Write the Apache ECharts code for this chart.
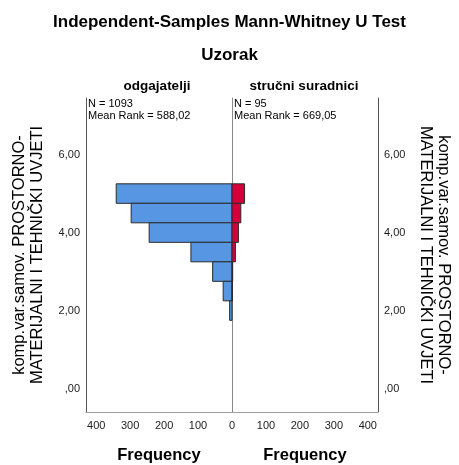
<!DOCTYPE html>
<html>
<head>
<meta charset="utf-8">
<script src="https://cdn.jsdelivr.net/npm/echarts@6/dist/echarts.min.js"></script>
<style>
  html, body { margin: 0; padding: 0; background: #fff; }
  #chart { width: 459px; height: 465px; }
</style>
</head>
<body>
<div id="chart"></div>
<script>
// Histogram bins (centre of each 0.5-wide bin) and frequencies per group
const binCenters = [5.0, 4.5, 4.0, 3.5, 3.0, 2.5, 2.0];
const binWidth = 0.5;
const countsOdgajatelji = [341, 297, 244, 121, 57, 26, 7];
const countsSuradnici = [37, 26, 19, 10, 2, 1, 0];

const groupNames = ['odgajatelji', 'stručni suradnici'];
const groupN = ['1093', '95'];
const groupMeanRank = ['588,02', '669,05'];

const yTickValues = [0, 2, 4, 6];
const yTickLabels = [',00', '2,00', '4,00', '6,00'];
const xTickValues = [0, 100, 200, 300, 400];
const xTickValuesRight = [100, 200, 300, 400];

const yName = 'komp.var.samov. PROSTORNO-\nMATERIJALNI I TEHNIČKI UVJETI';
const FONT = '"Liberation Sans", Arial, sans-serif';

function binRows(counts) {
  return binCenters.map((c, i) => [c - binWidth / 2, c + binWidth / 2, counts[i]]);
}

function histRender(fill) {
  return function (params, api) {
    const lo = api.value(0), hi = api.value(1), n = api.value(2);
    if (!n) return null;
    const a = api.coord([0, lo]);
    const b = api.coord([n, hi]);
    return {
      type: 'rect',
      shape: {
        x: Math.min(a[0], b[0]), y: Math.min(a[1], b[1]),
        width: Math.abs(b[0] - a[0]), height: Math.abs(b[1] - a[1])
      },
      style: { fill: fill, stroke: '#2b2b2b', lineWidth: 1 }
    };
  };
}

const yLabelFmt = v => {
  const i = yTickValues.indexOf(v);
  return i >= 0 ? yTickLabels[i] : '';
};

const chart = echarts.init(document.getElementById('chart'), null, { renderer: 'canvas' });

const yMin = -0.6, yMax = 7.45, xMax = 430;

const boldTitle = size => ({ fontFamily: FONT, fontSize: size, fontWeight: 'bold', color: '#000' });

chart.setOption({
  animation: false,
  backgroundColor: '#ffffff',
  textStyle: { fontFamily: FONT },
  title: [
    { text: 'Independent-Samples Mann-Whitney U Test', left: 'center', top: 14, padding: 0,
      textStyle: boldTitle(17) },
    { text: 'Uzorak', left: 'center', top: 47, padding: 0,
      textStyle: boldTitle(17) },
    { text: groupNames[0], left: 157, top: 79, textAlign: 'center', padding: 0,
      textStyle: boldTitle(13.5) },
    { text: groupNames[1], left: 304, top: 79, textAlign: 'center', padding: 0,
      textStyle: boldTitle(13.5) },
    { text: 'N = ' + groupN[0] + '\nMean Rank = ' + groupMeanRank[0], left: 88, top: 98, padding: 0,
      textStyle: { fontFamily: FONT, fontSize: 11, fontWeight: 'normal', color: '#000', lineHeight: 12 } },
    { text: 'N = ' + groupN[1] + '\nMean Rank = ' + groupMeanRank[1], left: 234, top: 98, padding: 0,
      textStyle: { fontFamily: FONT, fontSize: 11, fontWeight: 'normal', color: '#000', lineHeight: 12 } }
  ],
  grid: [
    { left: 86, right: 227, top: 98, bottom: 53, outerBoundsMode: 'none', containLabel: false },
    { left: 232, right: 81, top: 98, bottom: 53, outerBoundsMode: 'none', containLabel: false }
  ],
  xAxis: [
    {
      gridIndex: 0, type: 'value', min: 0, max: xMax, inverse: true,
      name: 'Frequency', nameLocation: 'middle', nameGap: 35,
      nameTextStyle: boldTitle(16.5),
      axisLine: { show: true, onZero: false, lineStyle: { color: '#a0a0a0', width: 1 } },
      axisTick: { show: false },
      splitLine: { show: false },
      axisLabel: { customValues: xTickValues, margin: 8, fontSize: 11, color: '#222', fontFamily: FONT }
    },
    {
      gridIndex: 1, type: 'value', min: 0, max: xMax,
      name: 'Frequency', nameLocation: 'middle', nameGap: 35,
      nameTextStyle: boldTitle(16.5),
      axisLine: { show: true, onZero: false, lineStyle: { color: '#a0a0a0', width: 1 } },
      axisTick: { show: false },
      splitLine: { show: false },
      axisLabel: { customValues: xTickValuesRight, margin: 8, fontSize: 11, color: '#222', fontFamily: FONT }
    }
  ],
  yAxis: [
    {
      gridIndex: 0, type: 'value', min: yMin, max: yMax, position: 'left',
      name: yName, nameLocation: 'middle', nameGap: 40, nameRotate: 90,
      nameTextStyle: { fontFamily: FONT, fontSize: 16.5, color: '#000', lineHeight: 18, align: 'center' },
      axisLine: { show: true, onZero: false, lineStyle: { color: '#555', width: 1 } },
      axisTick: { show: false },
      splitLine: { show: false },
      axisLabel: { customValues: yTickValues, formatter: yLabelFmt, margin: 6, fontSize: 11, color: '#222', fontFamily: FONT }
    },
    {
      gridIndex: 1, type: 'value', min: yMin, max: yMax, position: 'right',
      name: yName, nameLocation: 'middle', nameGap: 39, nameRotate: -90,
      nameTextStyle: { fontFamily: FONT, fontSize: 16.5, color: '#000', lineHeight: 18, align: 'center' },
      axisLine: { show: true, onZero: false, lineStyle: { color: '#555', width: 1 } },
      axisTick: { show: false },
      splitLine: { show: false },
      axisLabel: { customValues: yTickValues, formatter: yLabelFmt, margin: 6, fontSize: 11, color: '#222', fontFamily: FONT }
    },
    {
      // shared zero line between the two panels
      gridIndex: 1, type: 'value', min: yMin, max: yMax, position: 'left',
      axisLine: { show: true, onZero: false, lineStyle: { color: '#8a8a8a', width: 1 } },
      axisTick: { show: false }, axisLabel: { show: false }, splitLine: { show: false }
    }
  ],
  series: [
    {
      type: 'custom', xAxisIndex: 0, yAxisIndex: 0,
      encode: { x: 2, y: [0, 1] },
      data: binRows(countsOdgajatelji),
      renderItem: histRender('#5796e2')
    },
    {
      type: 'custom', xAxisIndex: 1, yAxisIndex: 1,
      encode: { x: 2, y: [0, 1] },
      data: binRows(countsSuradnici),
      renderItem: histRender('#d5003b')
    }
  ]
});
</script>
</body>
</html>
